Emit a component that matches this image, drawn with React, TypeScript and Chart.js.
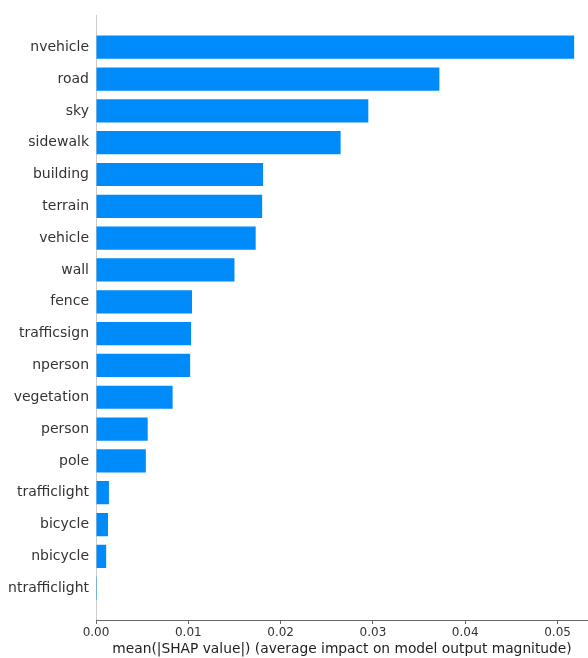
import React, { useEffect, useRef } from "react";
import { Chart, registerables } from "chart.js";

Chart.register(...registerables);

const features = [
  "nvehicle",
  "road",
  "sky",
  "sidewalk",
  "building",
  "terrain",
  "vehicle",
  "wall",
  "fence",
  "trafficsign",
  "nperson",
  "vegetation",
  "person",
  "pole",
  "trafficlight",
  "bicycle",
  "nbicycle",
  "ntrafficlight",
];

const meanAbsShap = [
  0.0518, 0.0372, 0.0295, 0.0265, 0.0181, 0.018, 0.0173, 0.015, 0.0104,
  0.0103, 0.0102, 0.0083, 0.0056, 0.0054, 0.0014, 0.0013, 0.0011, 0.0001,
];

const xTicks = [0, 0.01, 0.02, 0.03, 0.04, 0.05];
const xMax = 0.0533;
const xTitle = "mean(|SHAP value|) (average impact on model output magnitude)";

export default function App() {
  const ref = useRef<HTMLCanvasElement>(null);

  useEffect(() => {
    const canvas = ref.current;
    if (!canvas) return;
    const labels = ["", ...features, ""];
    const values = [null, ...meanAbsShap, null];
    const font = "'DejaVu Sans', sans-serif";
    const chart = new Chart(canvas, {
      type: "bar",
      data: {
        labels,
        datasets: [
          {
            data: values as any,
            backgroundColor: "#008bfb",
            borderWidth: 0,
            barPercentage: 0.73,
            categoryPercentage: 1,
          },
        ],
      },
      options: {
        indexAxis: "y",
        animation: false,
        responsive: false,
        devicePixelRatio: 1,
        layout: { padding: { top: 13, right: 0, bottom: 0, left: 0 } },
        plugins: {
          legend: { display: false },
          tooltip: { enabled: false },
        },
        scales: {
          y: {
            type: "category",
            offset: false,
            grid: { display: false, drawTicks: false },
            border: { display: true, color: "#cccccc", width: 1 },
            ticks: {
              autoSkip: false,
              padding: 7,
              color: "#333333",
              font: { family: font, size: 14 },
            },
            afterFit: (scale: any) => {
              scale.width = 96;
            },
          },
          x: {
            type: "linear",
            min: 0,
            max: xMax,
            grid: {
              display: true,
              drawOnChartArea: false,
              drawTicks: true,
              tickLength: 4,
              color: "#666666",
            },
            border: { display: true, color: "#666666", width: 1 },
            ticks: {
              padding: 2,
              color: "#333333",
              font: { family: font, size: 12 },
              callback: (v: any) => Number(v).toFixed(2),
            },
            afterBuildTicks: (scale: any) => {
              scale.ticks = xTicks.map((v) => ({ value: v }));
            },
            title: {
              display: true,
              text: xTitle,
              color: "#222222",
              font: { family: font, size: 13.8 },
              padding: { top: 0, bottom: 0 },
            },
            afterFit: (scale: any) => {
              scale.height = 38;
            },
          },
        },
      },
    });
    return () => chart.destroy();
  }, []);

  return (
    <div style={{ position: "absolute", left: 0, top: 0, width: 588, height: 658, background: "#fff" }}>
      <canvas ref={ref} width={588} height={658} style={{ display: "block" }} />
    </div>
  );
}
